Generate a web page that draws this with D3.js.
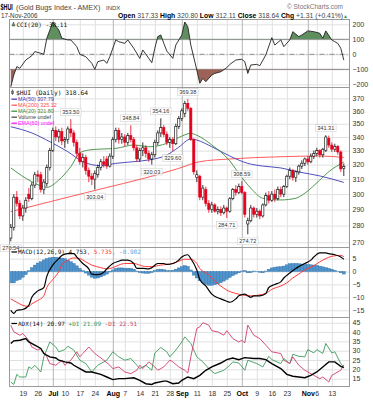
<!DOCTYPE html>
<html>
<head>
<meta charset="utf-8">
<script src="https://cdn.jsdelivr.net/npm/d3@7"></script>
<style>
  body { margin: 0; background: #fff; }
  svg { display: block; font-family: "Liberation Sans", Arial, sans-serif; }
  .mono { font-family: "DejaVu Sans Mono", "Liberation Mono", monospace; }
</style>
</head>
<body>
<script>
(function () {

//trading calendar
var startDay = "2006-06-13", endDay = "2006-11-17";
var holidays = ["2006-07-04", "2006-09-04"];

//x axis ticks
var tickDays = ["2006-06-19", "2006-06-26", "2006-07-03", "2006-07-10", "2006-07-17", "2006-07-24",
    "2006-08-01", "2006-08-07", "2006-08-14", "2006-08-21", "2006-08-28", "2006-09-01", "2006-09-11",
    "2006-09-18", "2006-09-25", "2006-10-02", "2006-10-09", "2006-10-16", "2006-10-23", "2006-11-01",
    "2006-11-06", "2006-11-13"];
var tickLabels = ["19", "26", "Jul", "10", "17", "24", "Aug", "7", "14", "21", "28", "Sep", "11",
    "18", "25", "Oct", "9", "16", "23", "Nov", "6", "13"];
var monthLabels = ["Jul", "Aug", "Sep", "Oct", "Nov"];

//daily bars
var open = [272.5, 279, 298, 294, 286, 291, 300, 297, 306, 313, 313, 303, 307, 318, 330, 345, 340, 344, 337, 338,
    346, 343, 336, 328, 322, 325, 316, 312, 310, 313, 318, 322, 324, 319, 326, 338, 345, 338, 340, 336,
    341, 338, 332, 324, 330, 332, 328, 324, 327, 336, 343, 347, 342, 336, 338, 335, 348, 354, 358, 366,
    362, 338, 311, 312, 298, 303, 294, 290, 293, 289, 290, 288, 291, 289, 297, 303, 301, 305, 301, 281,
    283, 291, 287, 289, 286, 293, 299, 296, 300, 297, 303, 300, 305, 312, 316, 311, 315, 319, 321, 324,
    322, 326, 328, 330, 327, 330, 339, 334, 331, 333, 329, 317.33];
var high = [281, 300, 302, 296, 293, 298, 304, 308, 315, 316, 315, 310, 320, 332, 347, 348, 346, 347, 340, 348,
    353.50, 345, 338, 332, 328, 327, 318, 314, 316, 320, 324, 326, 326, 328, 340, 347, 347, 343, 342, 343,
    348.84, 340, 334, 332, 336, 334, 330, 329, 338, 345, 354.16, 349, 344, 340, 340, 350, 356, 362, 368, 369.38,
    363, 339, 316, 313, 306, 305, 296, 295, 294, 292, 292, 293, 292, 298, 304, 306, 307, 308.59, 302, 285,
    293, 292, 291, 290, 294, 301, 302, 302, 303, 305, 305, 306, 313, 318, 317, 316, 320, 323, 325, 326,
    328, 330, 332, 331, 332, 341.31, 341, 336, 335, 334, 330, 320.80];
var low = [270.54, 277, 292, 284, 283, 288, 295, 296, 304, 308, 301, 300, 305, 316, 329, 337, 336, 334, 332, 335,
    340, 333, 325, 320, 318, 313, 308, 306, 303.04, 311, 316, 318, 317, 318, 324, 336, 335, 335, 333, 334,
    336, 330, 322, 322, 326, 325, 322, 320.03, 325, 334, 340, 340, 334, 332, 329.60, 334, 346, 352, 355, 360,
    337, 313, 308, 296, 296, 292, 288, 288, 288, 287, 286, 287, 284.71, 288, 296, 299, 300, 300, 285, 274.72,
    282, 285, 285, 284, 285, 292, 294, 295, 295, 296, 298, 298, 304, 310, 309, 308, 313, 317, 319, 320,
    321, 324, 326, 325, 325, 329, 332, 329, 329, 327, 315, 312.11];
var close = [279, 298, 294, 286, 291, 296, 297, 306, 313, 312, 303, 308, 318, 330, 345, 340, 344, 337, 338, 346,
    343, 336, 328, 322, 325, 316, 312, 310, 314, 318, 322, 320, 319, 326, 338, 345, 338, 340, 336, 341,
    338, 332, 324, 330, 332, 328, 324, 327, 336, 343, 347, 342, 336, 338, 335, 348, 354, 360, 366, 362,
    338, 315, 313, 298, 304, 294, 290, 293, 289, 290, 288, 291, 289, 297, 303, 301, 305, 301, 287, 283,
    291, 287, 289, 286, 293, 299, 296, 300, 297, 303, 300, 305, 312, 316, 311, 315, 319, 321, 324, 322,
    326, 328, 330, 327, 331, 340, 334, 331, 333, 329, 317, 318.64];

//labelled swing highs and lows (day numbers)
var markHighs = [20, 40, 50, 59, 77, 105];
var markLows = [0, 28, 47, 54, 72, 79];

//moving averages [day, value]
var ma50 = [[0, 347.7], [7, 343], [13, 336.5], [19, 329.2], [24, 322.1], [30, 319.3], [35, 320.9], [41, 322.1],
    [46, 323.3], [52, 326.8], [56, 332.5], [60, 338.5], [62, 337.7], [67, 332.8], [73, 326.1], [79, 320.9],
    [84, 319], [90, 317.7], [96, 314.9], [103, 312.2], [111, 307.79]];
var ma200 = [[0, 288.7], [15, 296], [30, 303.4], [45, 310.9], [56, 317.4], [63, 322.1], [73, 324], [90, 325.6],
    [103, 326.1], [111, 325.12]];
var ma20 = [[0, 317.7], [7, 308.3], [12, 304.5], [16, 309.4], [20, 318.6], [23, 328.3], [26, 330.4], [30, 331.1],
    [35, 331.6], [41, 334.1], [46, 332.8], [52, 335.3], [56, 339.6], [60, 342.7], [62, 341.3], [67, 334.1],
    [73, 322.6], [76, 314], [80, 303.9], [84, 297.3], [90, 296.2], [95, 297.3], [98, 300.6], [103, 309.4],
    [106, 315.1], [111, 321.8]];

//CCI(20) [day, value]
var cci = [[0, -216], [1, -138], [2, -82], [3, -93], [5, -38], [7, -9], [8, 18], [10, 7], [11, 0], [12, 107],
    [14, 215], [16, 162], [17, 107], [19, 96], [20, 96], [22, 51], [23, 0], [25, -16], [27, -60], [28, -100],
    [29, -49], [31, -38], [32, -60], [33, -16], [35, 96], [36, 84], [38, 73], [39, 96], [41, 40], [43, -27],
    [44, 29], [46, -27], [47, -56], [48, 40], [49, 118], [50, 129], [51, 73], [52, 22], [54, -27], [55, 62],
    [57, 129], [58, 215], [59, 184], [60, 62], [62, -104], [63, -193], [64, -160], [65, -182], [67, -138],
    [68, -127], [70, -116], [72, -89], [73, -67], [75, -38], [77, -33], [78, -49], [79, -127], [80, -71],
    [82, -67], [83, -76], [85, -4], [87, 111], [88, 62], [90, 96], [91, 51], [93, 96], [94, 151], [96, 118],
    [97, 129], [99, 156], [101, 151], [103, 140], [104, 107], [105, 156], [107, 96], [108, 84], [109, 73],
    [110, 40], [111, -38.11]];

//MACD(12,26,9) [day, value]
var macd = [[0, -15], [1, -16.2], [2, -15], [4, -14.7], [6, -13.1], [7, -10], [9, -7.5], [11, -6.2], [12, -1.9],
    [14, 2.5], [16, 5], [17, 6.2], [19, 6.9], [21, 6.9], [22, 5.6], [24, 3.1], [26, 1], [27, -1], [29, -1.2],
    [31, -0.25], [32, 1], [34, 3.1], [36, 4], [37, 4.4], [39, 4.4], [41, 3.1], [42, 1.2], [44, 1.2], [46, 1],
    [47, 1.5], [49, 3.1], [51, 3.1], [52, 2.75], [54, 3.1], [56, 4.4], [57, 5.6], [59, 6.5], [60, 5], [62, 0.6],
    [63, -3.1], [65, -5.6], [67, -8.75], [70, -10.6], [72, -11.5], [73, -11.9], [75, -10.6], [76, -9.4],
    [78, -8.75], [80, -10], [81, -9.4], [83, -9.4], [85, -8.5], [86, -6.2], [88, -5], [90, -4], [91, -2.5],
    [93, -0.6], [95, 1.2], [96, 1.9], [98, 3.1], [100, 4.4], [101, 5.6], [103, 7.2], [105, 7.2], [106, 6.9],
    [108, 6.5], [110, 5.6], [111, 4.753]];
var signal = [[0, -10.6], [2, -11.9], [4, -13.1], [6, -13.5], [7, -12.5], [9, -11.2], [11, -9.4], [12, -6.2],
    [14, -3.1], [16, 0], [17, 2.5], [19, 4.4], [21, 5.25], [23, 5], [25, 3.75], [27, 2.5], [30, 1.5], [32, 1],
    [34, 1.5], [36, 2.5], [38, 3.1], [41, 3.1], [43, 2.5], [45, 1.9], [47, 1.9], [50, 2.5], [52, 2.75], [54, 3.1],
    [56, 4], [58, 4.75], [60, 4.75], [62, 3.1], [63, 1.2], [66, -1.2], [68, -3.75], [70, -5.6], [72, -7.2],
    [75, -8.5], [77, -9], [79, -9.4], [81, -9.4], [83, -9], [85, -8.5], [87, -6.9], [90, -5.6], [92, -4.4],
    [94, -2.5], [96, -1], [98, 0.6], [101, 2.25], [103, 3.75], [105, 5], [107, 5.9], [110, 6.25], [111, 5.735]];
var histogram = [-4.4, -4.4, -3.5, -3.1, -2.2, -1.2, 0.3, 1.5, 2.5, 3.3, 3.8, 4.5, 5, 5.3, 5.5, 5.5, 5.3, 5.2, 5, 4.4,
    3.8, 3.1, 2.2, 1.2, 0.3, -0.6, -1.4, -2.2, -2.6, -2.5, -2.1, -1.6, -1, -0.2, 0.6, 1.2, 1.4, 1.4, 1.3, 1.3,
    1.2, 0.9, 0.2, -0.4, -0.6, -0.7, -0.7, -0.4, 0.4, 0.8, 0.9, 0.7, 0.4, 0.3, 0.5, 0.9, 1.4, 1.9, 2.3, 2.0,
    0.6, -1.4, -2.5, -3.6, -4.4, -4.9, -5.3, -5.3, -5.1, -4.8, -4.3, -3.7, -3, -2.3, -1.6, -1, -0.5, 0.2, 0.4, -0.5,
    -0.4, 0.2, 0.1, -0.3, -0.5, 0.2, 0.9, 1.4, 1.7, 1.8, 1.9, 2.1, 2.6, 3.0, 3.1, 3.1, 3.0, 2.9, 2.8, 2.7,
    2.6, 2.5, 2.4, 2.1, 1.8, 1.5, 1.2, 0.9, 0.5, 0.1, -0.5, -0.982];

//ADX(14) [day, value]
var adx = [[0, 33.9], [1, 35.3], [3, 35.6], [5, 36.5], [6, 34.7], [8, 33], [10, 31.2], [11, 28.5], [13, 26.7],
    [15, 26.1], [16, 24.9], [18, 24], [20, 23.4], [21, 22.2], [23, 20.4], [25, 18.6], [27, 18.6], [30, 17.3],
    [32, 15.9], [34, 14.5], [36, 15], [38, 15], [41, 15.5], [43, 14.1], [45, 12.3], [47, 11.9], [48, 12.7],
    [51, 13.7], [52, 13.7], [54, 12.3], [56, 12.7], [57, 14.1], [59, 15.9], [61, 15], [63, 16.8], [65, 19.5],
    [67, 21.3], [70, 23.4], [72, 25.2], [74, 26.1], [76, 25.2], [78, 26.3], [81, 25.8], [83, 25.8], [85, 25.2],
    [87, 23.1], [90, 20.4], [92, 17.3], [94, 16.3], [96, 15.9], [98, 15.5], [100, 16.8], [102, 18.6], [104, 21.3],
    [106, 24], [108, 24], [110, 21.6], [111, 20.97]];
var plusDI = [[0, 13.2], [1, 11.9], [2, 17.3], [3, 15.9], [5, 15.9], [6, 21.3], [7, 20.4], [8, 22.2], [10, 18.6],
    [11, 26.7], [13, 34.7], [15, 32], [16, 29.4], [18, 30.6], [19, 32.4], [21, 30.3], [23, 24.9], [25, 23.1],
    [27, 18.6], [29, 22.2], [32, 24.9], [34, 29.4], [36, 26.7], [38, 24.9], [40, 25.8], [42, 22.2], [43, 20.4],
    [45, 22.2], [47, 19.5], [48, 28.8], [50, 31.7], [52, 29.4], [53, 26.7], [55, 30.3], [57, 34.7], [58, 37.4],
    [60, 33.9], [62, 26.7], [64, 24], [66, 20.4], [68, 17.7], [71, 19.5], [73, 22.2], [74, 24], [76, 23.4],
    [78, 19.5], [79, 24.9], [82, 23.1], [84, 21.3], [86, 27], [87, 25.2], [90, 23.1], [91, 25.8], [93, 23.1],
    [94, 28.1], [96, 27], [98, 26.7], [99, 30.6], [101, 28.8], [102, 30.6], [104, 28.5], [105, 33.9], [107, 28.8],
    [108, 29.4], [110, 23.1], [111, 21.09]];
var minusDI = [[0, 43.7], [1, 40.1], [3, 38.3], [4, 39.2], [6, 35.6], [7, 32], [9, 30.3], [10, 31.2], [12, 26.7],
    [13, 23.1], [15, 22.2], [17, 24.9], [18, 22.2], [20, 24.9], [22, 29.4], [23, 26.7], [24, 28.5], [26, 32],
    [28, 28.5], [31, 24.9], [33, 22.2], [34, 20.4], [36, 21.3], [38, 18.6], [40, 17.7], [42, 19.5], [43, 22.2],
    [44, 20.4], [46, 24], [48, 21.3], [49, 19.5], [51, 21.3], [53, 24.9], [54, 24], [56, 21.3], [58, 19.5],
    [59, 18], [60, 26.7], [62, 41.9], [63, 42.8], [64, 45], [66, 43.7], [67, 40.7], [69, 40.1], [71, 38.3],
    [72, 40.7], [74, 36.5], [76, 34.7], [77, 35.6], [78, 34.2], [79, 43.7], [81, 38.3], [83, 36.5], [85, 33],
    [87, 29.4], [90, 28.5], [91, 24.9], [93, 23.1], [94, 26.7], [96, 22.2], [98, 19.5], [101, 16.8], [103, 15],
    [104, 15.9], [106, 13.2], [107, 16.8], [108, 17.7], [110, 19.5], [111, 22.51]];

//axis tick values
var cciTicks = [200, 100, 0, -100, -200];
var priceTicks = [270, 280, 290, 300, 310, 320, 330, 340, 350, 360, 370];
var macdTicks = [5, 0, -5, -10, -15];
var adxTicks = [15, 20, 25, 30, 35, 40, 45];

//frame
var width = 373, height = 400;
var L = 9.5, R = 349.5;
var cciBox = [19.5, 87.5], priceBox = [87.5, 247.5], macdBox = [247.5, 317.5], adxBox = [317.5, 386.5];

var upColor = "#000", downColor = "#e3001b";

var svg = d3.select("body").append("svg")
    .attr("width", width)
    .attr("height", height);

//trading days
var parse = d3.utcParse("%Y-%m-%d"), fmt = d3.utcFormat("%Y-%m-%d");
var days = d3.utcDay.range(parse(startDay), d3.utcDay.offset(parse(endDay), 1))
    .filter(function (d) {
        return d.getUTCDay() != 0 && d.getUTCDay() != 6 && holidays.indexOf(fmt(d)) < 0;
    })
    .map(fmt);
var n = days.length;
var tickIdx = tickDays.map(function (d) { return days.indexOf(d); });

var x = d3.scaleLinear().domain([0, n - 1]).range([10.8, 343.8]);

var yC = d3.scaleLinear().domain([-221, 232]).range([cciBox[1], cciBox[0]]);
var yP = d3.scaleLog().domain([266.9, 378.9]).range([priceBox[1], priceBox[0]]);
var yM = d3.scaleLinear().domain([-17.8, 9.3]).range([macdBox[1], macdBox[0]]);
var yA = d3.scaleLinear().domain([10.8, 47.8]).range([adxBox[1], adxBox[0]]);

//grid, border and right axis of one panel
function drawPanel(box, y, ticks, showDates, id) {
    var g = svg.append("g");

    var yAxis = d3.axisRight(y)
        .tickValues(ticks)
        .tickSize(-(R - L))
        .tickPadding(3)
        .tickFormat(d3.format("d"));
    var ya = g.append("g")
        .attr("transform", "translate(" + R + ",0)")
        .call(yAxis);
    ya.select(".domain").remove();
    ya.selectAll("line").attr("stroke", "#e0e0e0");
    ya.selectAll("text")
        .attr("font-size", 7)
        .attr("fill", "#333")
        .attr("font-family", "Liberation Sans, Arial, sans-serif");

    var xAxis = d3.axisBottom(x)
        .tickValues(tickIdx)
        .tickSize(-(box[1] - box[0]))
        .tickPadding(4.5)
        .tickFormat(function (d) { return tickLabels[tickIdx.indexOf(d)]; });
    var xa = g.append("g")
        .attr("transform", "translate(0," + box[1] + ")")
        .call(xAxis);
    xa.select(".domain").remove();
    xa.selectAll(".tick line")
        .attr("stroke", function (d) {
            return monthLabels.indexOf(tickLabels[tickIdx.indexOf(d)]) >= 0 ? "#b4b4b4" : "#e0e0e0";
        });
    if (showDates) {
        xa.selectAll("text")
            .attr("font-size", 7)
            .attr("font-family", "Liberation Sans, Arial, sans-serif")
            .attr("font-weight", function (d) {
                return monthLabels.indexOf(tickLabels[tickIdx.indexOf(d)]) >= 0 ? "bold" : "normal";
            })
            .attr("fill", function (d) {
                return monthLabels.indexOf(tickLabels[tickIdx.indexOf(d)]) >= 0 ? "#000" : "#333";
            });
    } else {
        xa.selectAll("text").remove();
    }

    //clip for the data marks
    svg.append("clipPath").attr("id", id)
        .append("rect")
        .attr("x", L).attr("y", box[0])
        .attr("width", R - L).attr("height", box[1] - box[0]);

    return g;
}

function drawBorder(box) {
    svg.append("rect")
        .attr("x", L).attr("y", box[0])
        .attr("width", R - L).attr("height", box[1] - box[0])
        .attr("fill", "none")
        .attr("stroke", "#9a9a9a");
}

function lineOf(y, curve) {
    return d3.line()
        .x(function (d) { return x(d[0]); })
        .y(function (d) { return y(d[1]); })
        .curve(curve || d3.curveLinear);
}

//----- CCI panel
drawPanel(cciBox, yC, cciTicks, false, "clipCci");
[100, -100].forEach(function (v) {
    svg.append("line")
        .attr("x1", L).attr("x2", R).attr("y1", yC(v)).attr("y2", yC(v))
        .attr("stroke", "#8c8c8c");
});
svg.append("line")
    .attr("x1", L).attr("x2", R).attr("y1", yC(0)).attr("y2", yC(0))
    .attr("stroke", "#8c8c8c")
    .attr("stroke-dasharray", "5,2,1,2");

svg.append("clipPath").attr("id", "cciHigh").append("rect")
    .attr("x", L).attr("y", cciBox[0]).attr("width", R - L).attr("height", yC(100) - cciBox[0]);
svg.append("clipPath").attr("id", "cciLow").append("rect")
    .attr("x", L).attr("y", yC(-100)).attr("width", R - L).attr("height", cciBox[1] - yC(-100));

svg.append("path")
    .datum(cci)
    .attr("clip-path", "url(#cciHigh)")
    .attr("fill", "#5f8f5f")
    .attr("d", d3.area()
        .x(function (d) { return x(d[0]); })
        .y0(yC(100))
        .y1(function (d) { return yC(d[1]); }));
svg.append("path")
    .datum(cci)
    .attr("clip-path", "url(#cciLow)")
    .attr("fill", "#9c6258")
    .attr("d", d3.area()
        .x(function (d) { return x(d[0]); })
        .y0(yC(-100))
        .y1(function (d) { return yC(d[1]); }));
svg.append("path")
    .datum(cci)
    .attr("clip-path", "url(#clipCci)")
    .attr("fill", "none")
    .attr("stroke", "#222")
    .attr("stroke-width", 0.9)
    .attr("d", lineOf(yC));
drawBorder(cciBox);

svg.append("path")
    .attr("d", "M12,26 L13.5,22 L15,26 Z")
    .attr("fill", "#5f8f5f").attr("stroke", "#333").attr("stroke-width", 0.4);
svg.append("text").attr("class", "mono")
    .attr("x", 16.5).attr("y", 26.5)
    .attr("font-size", 6).attr("fill", "#111")
    .text("CCI(20) -38.11");

//----- price panel
drawPanel(priceBox, yP, priceTicks, false, "clipPrice");

var pg = svg.append("g").attr("clip-path", "url(#clipPrice)");

//moving averages
[[ma200, "#ff4a4a"], [ma50, "#3c3cb4"], [ma20, "#3d8c3d"]].forEach(function (s) {
    pg.append("path")
        .datum(s[0])
        .attr("fill", "none")
        .attr("stroke", s[1])
        .attr("stroke-width", 0.9)
        .attr("d", lineOf(yP, d3.curveMonotoneX));
});

//candles
var candles = pg.selectAll(".candle")
    .data(d3.range(n))
    .enter()
    .append("g")
    .attr("class", "candle");
candles.append("line")
    .attr("x1", function (i) { return x(i); })
    .attr("x2", function (i) { return x(i); })
    .attr("y1", function (i) { return yP(high[i]); })
    .attr("y2", function (i) { return yP(low[i]); })
    .attr("stroke", function (i) { return close[i] >= open[i] ? upColor : downColor; })
    .attr("stroke-width", 0.8);
candles.append("rect")
    .attr("x", function (i) { return x(i) - 1.1; })
    .attr("width", 2.2)
    .attr("y", function (i) { return yP(Math.max(open[i], close[i])); })
    .attr("height", function (i) {
        return Math.max(0.8, Math.abs(yP(open[i]) - yP(close[i])));
    })
    .attr("fill", function (i) { return close[i] >= open[i] ? "#fff" : downColor; })
    .attr("stroke", function (i) { return close[i] >= open[i] ? upColor : downColor; })
    .attr("stroke-width", 0.6);

drawBorder(priceBox);

//swing labels
function markLabel(i, isHigh) {
    var v = isHigh ? high[i] : low[i];
    var cy = isHigh ? yP(v) - 7 : yP(v) + 7;
    var txt = d3.format(".2f")(v);
    var w = txt.length * 3.1 + 2;
    svg.append("rect")
        .attr("x", x(i) - w / 2).attr("y", cy - 3.4)
        .attr("width", w).attr("height", 6.8)
        .attr("fill", "#fff").attr("fill-opacity", 0.85)
        .attr("stroke", "#c8c8c8").attr("stroke-width", 0.5);
    svg.append("text")
        .attr("x", x(i)).attr("y", cy + 2)
        .attr("text-anchor", "middle")
        .attr("font-size", 5.6).attr("fill", "#333")
        .text(txt);
}
markHighs.forEach(function (i) { markLabel(i, true); });
markLows.forEach(function (i) { markLabel(i, false); });

//price legend
svg.append("path")
    .attr("d", "M12.5,89.5 V95 M11.5,91 h2 v2.5 h-2 Z")
    .attr("stroke", "#333").attr("stroke-width", 0.6).attr("fill", "#fff");
svg.append("text").attr("class", "mono")
    .attr("x", 16).attr("y", 95)
    .attr("font-size", 6.3).attr("fill", "#111")
    .text("$HUI (Daily) 318.64");
var legendItems = [["MA(50) 307.79", "#3c3cb4"], ["MA(200) 325.12", "#ff4a4a"], ["MA(20) 321.80", "#3d8c3d"],
    ["Volume undef", "#444"], ["EMA(60) undef", "#ff00ff"]];
legendItems.forEach(function (d, k) {
    var yy = 101 + k * 6;
    svg.append("line")
        .attr("x1", 11.5).attr("x2", 17).attr("y1", yy - 1.8).attr("y2", yy - 1.8)
        .attr("stroke", d[1]).attr("stroke-width", 1.2);
    svg.append("text")
        .attr("x", 18).attr("y", yy)
        .attr("font-size", 5.4).attr("fill", d[1])
        .text(d[0]);
});

//----- MACD panel
drawPanel(macdBox, yM, macdTicks, false, "clipMacd");
var mg = svg.append("g").attr("clip-path", "url(#clipMacd)");
mg.selectAll(".bar")
    .data(histogram)
    .enter()
    .append("rect")
    .attr("class", "bar")
    .attr("x", function (d, i) { return x(i) - 1.5; })
    .attr("width", 3)
    .attr("y", function (d) { return Math.min(yM(d), yM(0)); })
    .attr("height", function (d) { return Math.abs(yM(d) - yM(0)); })
    .attr("fill", "#4f93cc")
    .attr("stroke", "#2d6da3")
    .attr("stroke-width", 0.4);
mg.append("path").datum(signal)
    .attr("fill", "none").attr("stroke", "#ff3a3a").attr("stroke-width", 1)
    .attr("d", lineOf(yM, d3.curveMonotoneX));
mg.append("path").datum(macd)
    .attr("fill", "none").attr("stroke", "#000").attr("stroke-width", 1.2)
    .attr("d", lineOf(yM, d3.curveMonotoneX));
drawBorder(macdBox);

svg.append("line")
    .attr("x1", 11.5).attr("x2", 17).attr("y1", 252).attr("y2", 252)
    .attr("stroke", "#000").attr("stroke-width", 1.2);
var mt = svg.append("text").attr("class", "mono")
    .attr("x", 18).attr("y", 254)
    .attr("font-size", 6);
mt.append("tspan").attr("fill", "#111").text("MACD(12,26,9) 4.753");
mt.append("tspan").attr("fill", "#ff3a3a").text(", 5.735");
mt.append("tspan").attr("fill", "#5aa5e0").text(", -0.982");

//----- ADX panel
drawPanel(adxBox, yA, adxTicks, true, "clipAdx");
var ag = svg.append("g").attr("clip-path", "url(#clipAdx)");
[[plusDI, "#3c9a5c", 0.9], [minusDI, "#d23c6e", 0.9], [adx, "#000", 1.4]].forEach(function (s) {
    ag.append("path").datum(s[0])
        .attr("fill", "none").attr("stroke", s[1]).attr("stroke-width", s[2])
        .attr("d", lineOf(yA));
});
drawBorder(adxBox);

svg.append("line")
    .attr("x1", 11.5).attr("x2", 17).attr("y1", 323.5).attr("y2", 323.5)
    .attr("stroke", "#000").attr("stroke-width", 1.2);
var at = svg.append("text").attr("class", "mono")
    .attr("x", 18).attr("y", 325.5)
    .attr("font-size", 6);
at.append("tspan").attr("fill", "#111").text("ADX(14) 20.97 ");
at.append("tspan").attr("fill", "#3c9a5c").text("+DI 21.09 ");
at.append("tspan").attr("fill", "#d23c6e").text("-DI 22.51");

//----- header
svg.append("text")
    .attr("transform", "translate(0.5,9.5) scale(0.6,1)")
    .attr("font-size", 9).attr("font-weight", "bold").attr("fill", "#000")
    .text("$HUI");
svg.append("text")
    .attr("x", 16).attr("y", 9.5)
    .attr("font-size", 7.2).attr("fill", "#444")
    .text("(Gold Bugs Index - AMEX)");
svg.append("text")
    .attr("x", 106).attr("y", 9.5)
    .attr("font-size", 6).attr("fill", "#444")
    .text("INDX");
svg.append("text")
    .attr("x", 343).attr("y", 9)
    .attr("text-anchor", "end")
    .attr("font-size", 6.5).attr("fill", "#777")
    .text("© StockCharts.com");
svg.append("text")
    .attr("x", 1).attr("y", 17.5)
    .attr("font-size", 6.3).attr("fill", "#333")
    .text("17-Nov-2006");

var quote = [["Open", "317.33"], ["High", "320.80"], ["Low", "312.11"], ["Close", "318.64"], ["Chg", "+1.31 (+0.41%)"]];
var qt = svg.append("text")
    .attr("x", 118).attr("y", 17.5)
    .attr("font-size", 6.8)
    .attr("textLength", 230).attr("lengthAdjust", "spacingAndGlyphs");
quote.forEach(function (q, k) {
    qt.append("tspan").attr("font-weight", "bold").attr("fill", "#000").text((k ? " " : "") + q[0] + " ");
    qt.append("tspan").attr("fill", "#444").text(q[1]);
});
qt.append("tspan").attr("fill", "#3c9a5c").attr("font-size", 5).text("▲");

})();
</script>
</body>
</html>
